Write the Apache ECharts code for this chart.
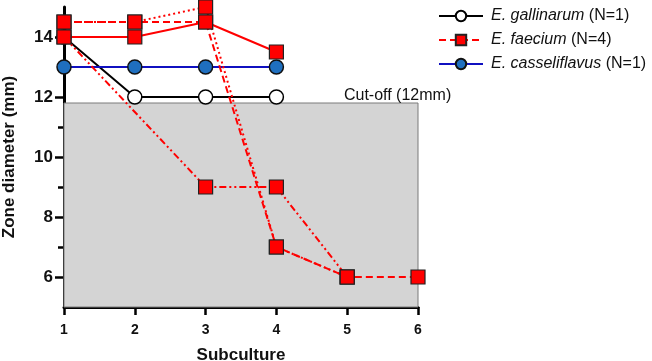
<!DOCTYPE html>
<html><head><meta charset="utf-8">
<script src="https://cdn.jsdelivr.net/npm/echarts@6/dist/echarts.min.js"></script>
<style>html,body{margin:0;padding:0;background:#fff}#c{width:652px;height:361px}</style>
</head><body><div id="c"></div>
<script>
const subcultures = [1, 2, 3, 4, 5, 6];
const gallinarum = [14, 12, 12, 12, null, null];
const casseliflavus = [13, 13, 13, 13, null, null];
const faeciumA = [14, 14, 14.5, 13.5, null, null];
const faeciumB = [14.5, 14.5, 14.5, 7, 6, 6];
const faeciumC = [14, null, 9, 9, 6, null];
const faeciumD = [14.5, 14.5, 15, 7, 6, null];
const cutoffTop = 11.8;
const yLabels = [6, 8, 10, 12, 14];
const yMinorTicks = [7, 9, 11, 13];
const legendNames = ['E. gallinarum (N=1)', 'E. faecium (N=4)', 'E. casseliflavus (N=1)'];

const pairs = arr => subcultures.map((x, i) => [x, arr[i]]);
const FONT = 'Liberation Sans, Arial, sans-serif';
const redSq = {symbol: 'rect', symbolSize: 14, itemStyle: {color: '#ff0000', borderColor: '#222', borderWidth: 1.2}};

const chart = echarts.init(document.getElementById('c'));
chart.setOption({
  animation: false,
  textStyle: {fontFamily: FONT},
  grid: {left: 64, right: 234, top: 7, bottom: 54, outerBoundsMode: 'none', containLabel: false},
  legend: {
    data: legendNames, orient: 'vertical', left: 433, top: 3,
    itemWidth: 44, itemHeight: 13, itemGap: 8,
    textStyle: {fontSize: 16, color: '#111', fontFamily: FONT, padding: [0, 0, 0, 3],
      rich: {i: {fontStyle: 'italic', fontSize: 16, color: '#111', fontFamily: FONT}}},
    formatter: n => { const k = n.indexOf(' ('); return '{i|' + n.slice(0, k) + '}' + n.slice(k); }
  },
  xAxis: {
    type: 'value', min: 1, max: 6, interval: 1,
    name: 'Subculture', nameLocation: 'middle', nameGap: 40,
    nameTextStyle: {fontWeight: 'bold', fontSize: 17, color: '#111'},
    axisLine: {lineStyle: {color: '#000', width: 3}},
    axisTick: {show: true, length: 8, lineStyle: {width: 2.5, color: '#000'}},
    axisLabel: {fontWeight: 'bold', fontSize: 14, color: '#111', margin: 16},
    splitLine: {show: false}
  },
  yAxis: [{
    type: 'value', min: 5, max: 15, interval: 1,
    name: 'Zone diameter (mm)', nameLocation: 'middle', nameGap: 46,
    nameTextStyle: {fontWeight: 'bold', fontSize: 17, color: '#111'},
    axisLine: {show: true, lineStyle: {color: '#000', width: 3}},
    axisTick: {show: true, length: 9, customValues: yLabels, lineStyle: {width: 2.5, color: '#000'}},
    axisLabel: {fontWeight: 'bold', fontSize: 17, color: '#111', margin: 11, customValues: yLabels},
    splitLine: {show: false}
  }, {
    type: 'value', min: 5, max: 15, interval: 1, position: 'left',
    axisLine: {show: false},
    axisTick: {show: true, length: 6, customValues: yMinorTicks, lineStyle: {width: 2.5, color: '#000'}},
    axisLabel: {show: false},
    splitLine: {show: false}
  }],
  series: [
    {type: 'line', name: 'cutoff', data: [], silent: true, z: 0,
      markArea: {silent: true,
        itemStyle: {color: '#d4d4d4', borderColor: '#7a7a7a', borderWidth: 1},
        label: {show: true, position: ['79%', -15], formatter: 'Cut-off (12mm)', color: '#111', fontSize: 16, fontFamily: FONT},
        data: [[{xAxis: subcultures[0], yAxis: 5}, {xAxis: subcultures[5], yAxis: cutoffTop}]]}},
    {type: 'line', name: legendNames[0], data: pairs(gallinarum), symbol: 'circle', symbolSize: 14,
      lineStyle: {color: '#000', width: 2}, itemStyle: {color: '#fff', borderColor: '#000', borderWidth: 1.5}, z: 3},
    {type: 'line', name: 'fa', data: pairs(faeciumA), ...redSq, lineStyle: {color: '#ff0000', width: 2}, z: 4},
    {type: 'line', name: legendNames[1], data: pairs(faeciumB), ...redSq, lineStyle: {color: '#ff0000', width: 2, type: [7, 4]}, z: 4},
    {type: 'line', name: 'fc', data: pairs(faeciumC), connectNulls: true, ...redSq, lineStyle: {color: '#ff0000', width: 2, type: [7, 3, 2, 3, 2, 3]}, z: 4},
    {type: 'line', name: 'fd', data: pairs(faeciumD), ...redSq, lineStyle: {color: '#ff0000', width: 2, type: [2, 3]}, z: 4},
    {type: 'line', name: legendNames[2], data: pairs(casseliflavus), symbol: 'circle', symbolSize: 14,
      lineStyle: {color: '#1010c0', width: 2}, itemStyle: {color: '#1f6fbf', borderColor: '#111', borderWidth: 1.5}, z: 3}
  ]
});
</script></body></html>
